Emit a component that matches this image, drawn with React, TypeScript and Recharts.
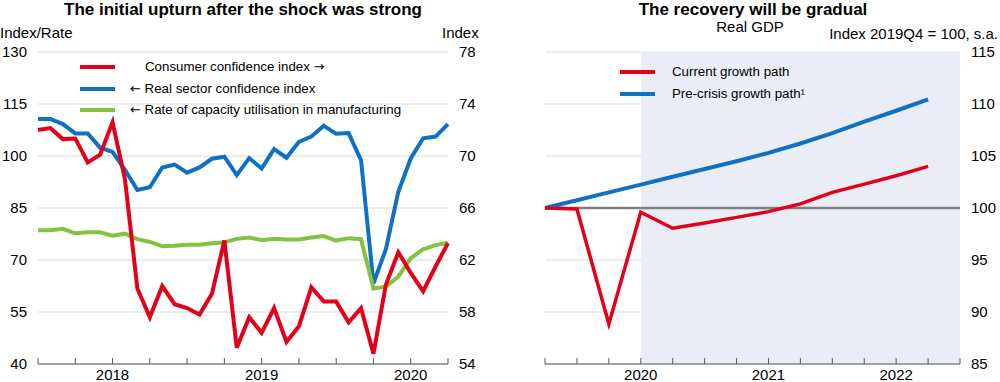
import React from 'react';
import {
  LineChart,
  Line,
  XAxis,
  YAxis,
  CartesianGrid,
  ReferenceArea,
  ReferenceLine,
} from 'recharts';

// Left panel: monthly, Jan 2018 .. Oct 2020
const consumerConfidence = [
  72.0, 72.15, 71.3, 71.35, 69.5, 70.1, 72.6, 68.2, 59.8, 57.6, 60.0, 58.6,
  58.3, 57.8, 59.4, 63.5, 55.25, 57.6, 56.4, 58.3, 55.7, 56.9, 59.9, 58.8,
  58.8, 57.2, 58.3, 54.8, 60.1, 62.6, 61.0, 59.6, 61.5, 63.3,
];
const realSectorConfidence = [
  110.7, 110.7, 109.2, 106.5, 106.5, 102.4, 101.2, 96.0, 90.2, 91.0, 96.7, 97.5,
  95.2, 96.7, 99.2, 99.8, 94.5, 99.4, 96.4, 102.0, 99.5, 104.1, 105.6, 108.7,
  106.4, 106.6, 98.8, 63.3, 73.1, 89.7, 99.3, 105.1, 105.6, 109.2,
];
const capacityUtilisation = [
  78.6, 78.6, 79.0, 77.7, 78.0, 78.0, 77.0, 77.6, 76.0, 75.2, 74.0, 74.1,
  74.4, 74.4, 74.8, 75.1, 76.1, 76.5, 75.7, 76.1, 75.9, 75.9, 76.5, 76.9,
  75.6, 76.3, 76.0, 61.8, 62.3, 65.2, 70.5, 73.1, 74.3, 75.0,
];
const leftYearLabels: Record<number, string> = { 6: '2018', 18: '2019', 30: '2020' };
const leftTicksX = [0, 3, 6, 9, 12, 15, 18, 21, 24, 27, 30, 33];
const leftTicksY = [40, 55, 70, 85, 100, 115, 130];
const rightTicksY = [54, 58, 62, 66, 70, 74, 78];

// Right panel: quarterly, 2019Q4 .. 2022Q4
const currentGrowthPath = [100, 99.9, 88.85, 99.6, 98.05, 98.55, 99.1, 99.65, 100.4, 101.5, 102.3, 103.1, 104.0];
const preCrisisGrowthPath = [100, 100.75, 101.5, 102.25, 103.0, 103.75, 104.5, 105.3, 106.2, 107.2, 108.3, 109.35, 110.45];
const gdpYearLabels: Record<number, string> = { 3: '2020', 7: '2021', 11: '2022' };
const gdpTicksX = [0, 1, 2, 3, 4, 5, 6, 7, 8, 9, 10, 11, 12, 13];
const gdpTicksY = [85, 90, 95, 100, 105, 110, 115];

const FONT = '"Liberation Sans", Arial, Helvetica, sans-serif';
const RED = '#e2001a';
const BLUE = '#0f71c3';
const GREEN = '#84c341';
const GRID = '#d9d9d9';
const AXIS = '#595959';

const leftData = consumerConfidence.map((v, i) => ({
  i,
  consumer: v,
  real: realSectorConfidence[i],
  capacity: capacityUtilisation[i],
}));

const gdpData = currentGrowthPath.map((v, i) => ({
  i,
  current: v,
  precrisis: preCrisisGrowthPath[i],
}));

const tickStyle = { fontSize: 15, fill: '#000', fontFamily: FONT };

const Arrow = ({ c }: { c: string }) => (
  <span style={{ fontFamily: '"DejaVu Sans", sans-serif', fontSize: 13 }}>{c}</span>
);

function LegendRow({ color, children, top, left, textLeft, thick = 4 }: {
  color: string; children: React.ReactNode; top: number; left: number; textLeft: number; thick?: number;
}) {
  return (
    <>
      <div style={{ position: 'absolute', left, top: top - thick / 2, width: 35, height: thick, background: color }} />
      <div style={{ position: 'absolute', left: textLeft, top: top - 9, fontSize: 13.3, lineHeight: '18px', whiteSpace: 'nowrap' }}>
        {children}
      </div>
    </>
  );
}

export default function App() {
  return (
    <div style={{ position: 'absolute', left: 0, top: 0, width: 1000, height: 382, background: '#fff', fontFamily: FONT, color: '#000', overflow: 'hidden' }}>
      {/* left panel */}
      <div style={{ position: 'absolute', left: 0, top: 0 }}>
        <LineChart width={500} height={382} data={leftData} margin={{ top: 52, right: 0, bottom: 0, left: 0 }}>
          <CartesianGrid yAxisId="left" vertical={false} stroke={GRID} />
          <XAxis
            dataKey="i"
            type="number"
            domain={[0, 33]}
            ticks={leftTicksX}
            interval={0}
            height={18}
            tickSize={-6}
            tickMargin={11}
            stroke={AXIS}
            tick={tickStyle}
            tickFormatter={(v: number) => leftYearLabels[v] ?? ''}
          />
          <YAxis yAxisId="left" domain={[40, 130]} ticks={leftTicksY} width={38} axisLine={false} tickLine={false} tickMargin={5} tick={tickStyle} />
          <YAxis yAxisId="right" orientation="right" domain={[54, 78]} ticks={rightTicksY} width={52} axisLine={false} tickLine={false} tickMargin={5} tick={tickStyle} />
          <Line yAxisId="left" dataKey="real" stroke={BLUE} strokeWidth={4} dot={false} isAnimationActive={false} strokeLinejoin="miter" />
          <Line yAxisId="left" dataKey="capacity" stroke={GREEN} strokeWidth={4} dot={false} isAnimationActive={false} strokeLinejoin="miter" />
          <Line yAxisId="right" dataKey="consumer" stroke={RED} strokeWidth={4} dot={false} isAnimationActive={false} strokeLinejoin="miter" />
        </LineChart>
      </div>

      {/* right panel */}
      <div style={{ position: 'absolute', left: 500, top: 0 }}>
        <LineChart width={500} height={382} data={gdpData} margin={{ top: 52, right: 0, bottom: 0, left: 45 }}>
          <ReferenceArea x1={3} x2={13} y1={85} y2={115} fill="#eaedf6" fillOpacity={1} stroke="none" />
          <CartesianGrid vertical={false} stroke={GRID} />
          <XAxis
            dataKey="i"
            type="number"
            domain={[0, 13]}
            ticks={gdpTicksX}
            interval={0}
            height={18}
            tickSize={-6}
            tickMargin={11}
            stroke={AXIS}
            tick={tickStyle}
            tickFormatter={(v: number) => gdpYearLabels[v] ?? ''}
          />
          <YAxis orientation="right" domain={[85, 115]} ticks={gdpTicksY} width={40} axisLine={false} tickLine={false} tickMargin={5} tick={tickStyle} />
          <ReferenceLine y={100} stroke="#7f7f7f" strokeWidth={2.5} />
          <Line dataKey="precrisis" stroke={BLUE} strokeWidth={4} dot={false} isAnimationActive={false} />
          <Line dataKey="current" stroke={RED} strokeWidth={3.5} dot={false} isAnimationActive={false} strokeLinejoin="miter" />
        </LineChart>
      </div>

      {/* titles and unit labels */}
      <div style={{ position: 'absolute', left: 0, width: 486, top: 0, lineHeight: '19px', textAlign: 'center', fontWeight: 'bold', fontSize: 17 }}>
        The initial upturn after the shock was strong
      </div>
      <div style={{ position: 'absolute', left: 500, width: 506, top: 0, lineHeight: '19px', textAlign: 'center', fontWeight: 'bold', fontSize: 17 }}>
        The recovery will be gradual
      </div>
      <div style={{ position: 'absolute', left: 500, width: 500, top: 18, textAlign: 'center', fontSize: 15 }}>Real GDP</div>
      <div style={{ position: 'absolute', right: 2, top: 25, fontSize: 15 }}>Index 2019Q4 = 100, s.a.</div>
      <div style={{ position: 'absolute', left: 0, top: 24, fontSize: 15 }}>Index/Rate</div>
      <div style={{ position: 'absolute', left: 442, top: 24, fontSize: 15 }}>Index</div>

      {/* legends */}
      <LegendRow color={RED} top={67} left={80} textLeft={145}>
        Consumer confidence index <Arrow c="→" />
      </LegendRow>
      <LegendRow color={BLUE} top={89} left={80} textLeft={130}>
        <Arrow c="←" /> Real sector confidence index
      </LegendRow>
      <LegendRow color={GREEN} top={110} left={80} textLeft={130}>
        <Arrow c="←" /> Rate of capacity utilisation in manufacturing
      </LegendRow>
      <LegendRow color={RED} top={72} left={620} textLeft={672} thick={3.5}>
        Current growth path
      </LegendRow>
      <LegendRow color={BLUE} top={94} left={620} textLeft={672}>
        Pre-crisis growth path{'\u00b9'}
      </LegendRow>
    </div>
  );
}
